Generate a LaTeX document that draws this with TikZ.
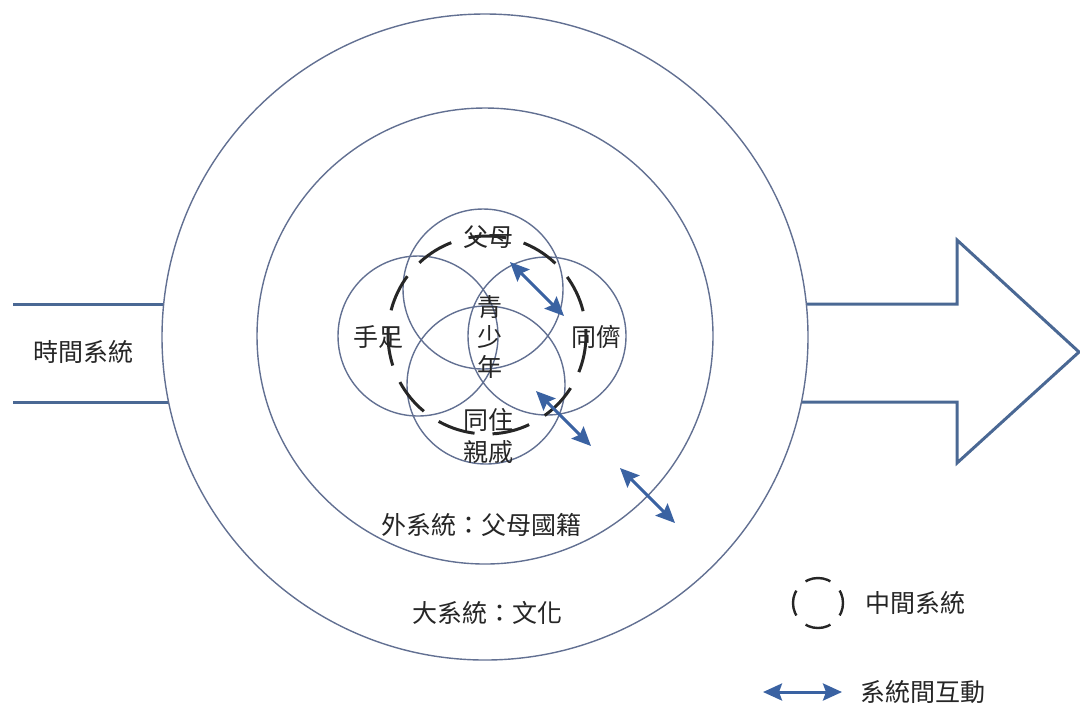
\documentclass[tikz,border=0pt]{standalone}
\usepackage{fontspec}
\setmainfont{Noto Sans CJK TC}
\usepackage{xcolor}
\usepackage{tikz}
\usetikzlibrary{arrows.meta}
\definecolor{ringblue}{RGB}{98,112,146}
\definecolor{timeblue}{RGB}{74,104,148}
\definecolor{linkblue}{RGB}{58,98,162}
\tikzset{
  ring/.style={draw=ringblue, line width=0.7pt},
  mesoring/.style={draw=black!85, line width=1.5pt, dash pattern=on 19pt off 9pt},
  timearrow/.style={draw=timeblue, line width=1.5pt, line join=miter},
  link/.style={draw=linkblue, line width=1.5pt, {Stealth[length=9.5pt,width=8.5pt,inset=1.5pt]}-{Stealth[length=9.5pt,width=8.5pt,inset=1.5pt]}},
  cjktext/.style={font=\fontsize{12.5}{15}\selectfont, text=black!85, inner sep=0pt, align=center},
}
\begin{document}
\begin{tikzpicture}[x=0.5pt,y=-0.5pt]
			\useasboundingbox (0,0) rectangle (1080,720);
			% time system arrow
			\draw[timearrow] (13,304) -- (163.7,304);
			\draw[timearrow] (13,402) -- (168.6,402);
			\draw[timearrow] (806.3,304) -- (957,304) -- (957,240) -- (1079,352) -- (957,463) -- (957,402) -- (801.4,402);
			\node[cjktext] (time) at (83,352) {時間系統};
			% macro and exo system
			\coordinate (ctr) at (485,337);
			\draw[ring] (ctr) circle (323);
			\draw[ring] (ctr) ++(0,-1) circle (228);
			\node[cjktext] (macro) at (487,613) {大系統：文化};
			\node[cjktext] (exo) at (481,525) {外系統：父母國籍};
			% micro systems
			\draw[ring] (483,289) circle (80);
			\draw[ring] (418,336) circle (80);
			\draw[ring] (547,336) circle (79);
			\draw[ring] (486,385) circle (79);
			% meso system
			\draw[mesoring] (487,335) circle (99);
			\node[cjktext] (parents) at (488,237) {父母};
			\node[cjktext] (siblings) at (378,337) {手足};
			\node[cjktext] (youth) at (490,337) {青\\少\\年};
			\node[cjktext] (peers) at (596,337) {同儕};
			\node[cjktext, font=\fontsize{12.5}{16}\selectfont] (kin) at (488,436) {同住\\親戚};
			% interactions
			\coordinate (l1a) at (510,262);
			\coordinate (l1b) at (564,316);
			\coordinate (l2a) at (536,391);
			\coordinate (l2b) at (591,446);
			\coordinate (l3a) at (620,468);
			\coordinate (l3b) at (675,523);
			\draw[link] (l1a) -- (l1b);
			\draw[link] (l2a) -- (l2b);
			\draw[link] (l3a) -- (l3b);
			% legend
			\draw[mesoring, line width=1.2pt, dash pattern=on 13pt off 6.6pt, dash phase=6.5pt] (818,603) circle (25);
			\node[cjktext, anchor=west] (mesokey) at (865,603) {中間系統};
			\coordinate (keya) at (763,692);
			\coordinate (keyb) at (842,692);
			\draw[link] (keya) -- (keyb);
			\node[cjktext, anchor=west] (linkkey) at (860,692) {系統間互動};
		\end{tikzpicture}
\end{document}
